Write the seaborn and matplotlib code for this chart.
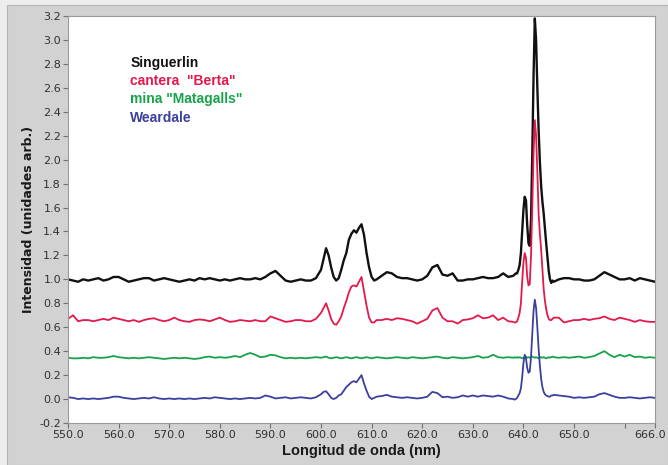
import numpy as np
import pandas as pd
import matplotlib
matplotlib.use("Agg")
import matplotlib.pyplot as plt
import matplotlib.transforms as mtransforms
from matplotlib.patches import Rectangle
import seaborn as sns

# Wavelength sampling (nm): 1 nm steps, finer across the emission peaks
wavelength = np.concatenate([
    np.arange(550, 600, 1.0),      # 50
    np.arange(600, 611, 0.5),      # 22
    np.arange(611, 638, 1.0),      # 27
    np.arange(638, 646, 0.25),     # 32
    np.arange(646, 667, 1.0),      # 21
])

singuerlin = [
    1.00, 0.99, 0.98, 1.00, 0.99, 1.00, 1.01, 0.99, 1.00, 1.02,
    1.02, 1.00, 0.98, 0.99, 1.00, 1.01, 1.01, 0.99, 1.00, 1.01,
    1.00, 0.99, 0.98, 0.99, 1.00, 0.99, 1.01, 1.00, 1.01, 1.00,
    0.99, 1.00, 0.99, 1.00, 1.01, 1.00, 1.00, 1.01, 1.00, 1.02,
    1.05, 1.07, 1.03, 0.99, 0.98, 0.99, 1.00, 0.99, 0.99, 1.01,
    1.08, 1.17, 1.26, 1.20, 1.10, 1.02, 0.99, 1.01, 1.08, 1.16, 1.22,
    1.33, 1.38, 1.41, 1.39, 1.43, 1.46, 1.37, 1.22, 1.10, 1.02, 0.99,
    1.00, 1.03, 1.06, 1.05, 1.02, 1.01, 1.01, 1.00, 0.99, 1.00,
    1.03, 1.10, 1.12, 1.04, 1.03, 1.05, 0.99, 0.99, 1.00, 1.00,
    1.01, 1.02, 1.01, 1.01, 1.02, 1.05, 1.02,
    1.03, 1.04, 1.05, 1.05, 1.08, 1.12, 1.22, 1.40,
    1.58, 1.69, 1.66, 1.45, 1.30, 1.28, 1.50, 2.05,
    2.70, 3.18, 3.00, 2.60, 2.25, 1.98, 1.78, 1.65,
    1.55, 1.42, 1.30, 1.18, 1.07, 1.00, 0.97, 0.99,
    0.98, 1.00, 1.01, 1.01, 1.00, 1.00, 0.99, 0.99, 1.00, 1.03,
    1.06, 1.04, 1.02, 1.00, 1.00, 1.01, 0.99, 1.01, 1.00, 0.99, 0.98,
]

berta = [
    0.67, 0.70, 0.65, 0.66, 0.66, 0.65, 0.66, 0.67, 0.66, 0.68,
    0.67, 0.66, 0.65, 0.66, 0.645, 0.66, 0.67, 0.675, 0.66, 0.65,
    0.66, 0.68, 0.66, 0.65, 0.645, 0.66, 0.665, 0.66, 0.65, 0.665,
    0.68, 0.66, 0.645, 0.65, 0.66, 0.655, 0.65, 0.66, 0.65, 0.65,
    0.69, 0.675, 0.66, 0.645, 0.65, 0.66, 0.66, 0.65, 0.65, 0.67,
    0.72, 0.76, 0.80, 0.74, 0.67, 0.63, 0.62, 0.65, 0.69, 0.76, 0.82,
    0.89, 0.94, 0.95, 0.94, 0.98, 1.02, 0.90, 0.78, 0.68, 0.64, 0.64,
    0.66, 0.66, 0.67, 0.66, 0.675, 0.67, 0.66, 0.65, 0.63, 0.65,
    0.67, 0.74, 0.76, 0.68, 0.65, 0.65, 0.63, 0.66, 0.665, 0.675,
    0.70, 0.675, 0.68, 0.70, 0.66, 0.68, 0.65,
    0.645, 0.64, 0.64, 0.65, 0.68, 0.72, 0.80, 0.98,
    1.14, 1.22, 1.18, 1.02, 0.95, 0.96, 1.20, 1.60,
    2.05, 2.33, 2.20, 1.90, 1.55, 1.38, 1.25, 1.08,
    0.92, 0.82, 0.75, 0.70, 0.67, 0.66, 0.66, 0.67,
    0.68, 0.68, 0.64, 0.65, 0.66, 0.66, 0.67, 0.66, 0.67, 0.675,
    0.69, 0.67, 0.66, 0.68, 0.67, 0.66, 0.645, 0.66, 0.65, 0.645, 0.645,
]

matagalls = [
    0.345, 0.34, 0.34, 0.345, 0.34, 0.35, 0.345, 0.345, 0.35, 0.36,
    0.35, 0.345, 0.34, 0.345, 0.34, 0.345, 0.35, 0.345, 0.34, 0.335,
    0.34, 0.345, 0.34, 0.345, 0.34, 0.335, 0.34, 0.35, 0.355, 0.345,
    0.35, 0.345, 0.35, 0.36, 0.35, 0.37, 0.385, 0.37, 0.35, 0.355,
    0.37, 0.365, 0.35, 0.34, 0.345, 0.34, 0.345, 0.34, 0.345, 0.35,
    0.345, 0.35, 0.355, 0.345, 0.34, 0.345, 0.35, 0.345, 0.34, 0.345, 0.35,
    0.345, 0.34, 0.345, 0.35, 0.345, 0.34, 0.345, 0.35, 0.345, 0.34, 0.345,
    0.35, 0.345, 0.34, 0.345, 0.35, 0.345, 0.34, 0.35, 0.345, 0.34,
    0.345, 0.35, 0.355, 0.345, 0.34, 0.35, 0.345, 0.34, 0.345, 0.35,
    0.36, 0.345, 0.35, 0.37, 0.35, 0.345, 0.35,
    0.345, 0.35, 0.345, 0.35, 0.345, 0.35, 0.345, 0.34,
    0.345, 0.35, 0.355, 0.345, 0.35, 0.345, 0.35, 0.355,
    0.35, 0.345, 0.35, 0.345, 0.34, 0.345, 0.35, 0.345,
    0.35, 0.345, 0.34, 0.345, 0.35, 0.345, 0.35, 0.355,
    0.35, 0.345, 0.35, 0.345, 0.35, 0.355, 0.345, 0.35, 0.36, 0.38,
    0.40, 0.37, 0.35, 0.37, 0.355, 0.37, 0.35, 0.355, 0.345, 0.35, 0.345,
]

weardale = [
    0.015, 0.01, 0.0, 0.005, 0.0, 0.005, 0.0, 0.005, 0.01, 0.02,
    0.02, 0.01, 0.005, 0.0, 0.005, 0.01, 0.005, 0.015, 0.005, 0.0,
    0.005, 0.0, 0.005, 0.0, 0.005, 0.0, 0.005, 0.01, 0.005, 0.015,
    0.01, 0.005, 0.0, 0.005, 0.0, 0.005, 0.01, 0.005, 0.01, 0.03,
    0.02, 0.005, 0.01, 0.015, 0.005, 0.01, 0.015, 0.01, 0.005, 0.015,
    0.04, 0.06, 0.065, 0.04, 0.01, 0.0, 0.01, 0.03, 0.04, 0.07, 0.10,
    0.12, 0.14, 0.15, 0.14, 0.17, 0.20, 0.13, 0.07, 0.02, 0.0, 0.01,
    0.02, 0.025, 0.035, 0.02, 0.015, 0.01, 0.015, 0.01, 0.005, 0.01,
    0.02, 0.06, 0.05, 0.015, 0.02, 0.01, 0.015, 0.03, 0.02, 0.03,
    0.02, 0.03, 0.025, 0.02, 0.03, 0.02, 0.005,
    0.0, -0.005, 0.0, 0.01, 0.03, 0.05, 0.09, 0.18,
    0.30, 0.37, 0.34, 0.26, 0.22, 0.23, 0.35, 0.55,
    0.74, 0.83, 0.76, 0.60, 0.42, 0.28, 0.17, 0.10,
    0.06, 0.04, 0.03, 0.025, 0.02, 0.02, 0.03, 0.03,
    0.035, 0.03, 0.025, 0.02, 0.01, 0.015, 0.01, 0.015, 0.02, 0.04,
    0.05, 0.035, 0.02, 0.01, 0.01, 0.015, 0.01, 0.005, 0.01, 0.015, 0.01,
]

series_names = ['Singuerlin', 'cantera  "Berta"', 'mina "Matagalls"', 'Weardale']
series_values = [singuerlin, berta, matagalls, weardale]
series_colors = ['#111111', '#E3194B', '#17A34A', '#3C3F9E']
series_widths = [1.7, 1.3, 1.3, 1.3]

x_ticks = [550, 560, 570, 580, 590, 600, 610, 620, 630, 640, 650, 666]
x_tick_labels = ['550.0', '560.0', '570.0', '580.0', '590.0', '600.0',
                 '610.0', '620.0', '630.0', '640.0', '650.0', '666.0']
y_ticks = np.round(np.arange(-0.2, 3.21, 0.2), 1)

df = pd.concat(
    [pd.DataFrame({'wavelength': wavelength, 'intensity': vals, 'sample': name})
     for name, vals in zip(series_names, series_values)],
    ignore_index=True,
)

sns.set_theme(style="white")
plt.rcParams['font.family'] = ['DejaVu Sans']

W, H = 668, 465
fig = plt.figure(figsize=(W / 100, H / 100), dpi=100, facecolor='#EDEDED')
# grey panel behind the graph
panel = Rectangle((7 / W, 0), 1 - 7 / W, 1 - 5 / H, transform=fig.transFigure,
                  facecolor='#D2D2D2', edgecolor='#B4B4B4', lw=0.8, zorder=-10)
fig.add_artist(panel)

left, right, top, bottom = 68, 655, 16, 423
ax = fig.add_axes([left / W, 1 - bottom / H, (right - left) / W, (bottom - top) / H])
ax.set_facecolor('white')
ax.set_zorder(1)

for name, color, lw in zip(series_names, series_colors, series_widths):
    sub = df[df['sample'] == name]
    sns.lineplot(data=sub, x='wavelength', y='intensity', color=color, lw=lw,
                 ax=ax, estimator=None, sort=False, legend=False)

ax.set_xlim(550, 666)
ax.set_ylim(-0.2, 3.2)
ax.set_xticks(x_ticks)
ax.set_xticklabels(x_tick_labels)
ax.set_xticks([660], minor=True)
ax.set_yticks(y_ticks)
ax.set_yticklabels([f'{v:.1f}' for v in y_ticks])
ax.tick_params(axis='both', which='both', direction='out', length=3.5, width=0.8,
               color='#707070', labelsize=8, labelcolor='#303030', pad=1.5)
ax.tick_params(axis='x', which='minor', length=3.5, bottom=True)
ax.tick_params(left=True, bottom=True)

# keep the last wavelength label inside the panel
last = ax.get_xticklabels()[-1]
last.set_transform(last.get_transform() +
                   mtransforms.ScaledTranslation(-5 / 100, 0, fig.dpi_scale_trans))

for s in ax.spines.values():
    s.set_color('#9A9A9A')
    s.set_linewidth(0.8)

ax.set_xlabel('Longitud de onda (nm)', fontsize=10.5, fontweight='bold', color='#1A1A1A',
              family=['Liberation Sans Narrow', 'Liberation Sans'], labelpad=3)
ax.set_ylabel('Intensidad (unidades arb.)', fontsize=9, fontweight='bold', color='#1A1A1A',
              labelpad=3)

# coloured sample names
label_y = [0.884, 0.840, 0.796, 0.750]
for name, color, yy in zip(series_names, series_colors, label_y):
    ax.text(0.106, yy, name, transform=ax.transAxes, color=color, fontsize=10,
            fontweight='bold', va='center', ha='left',
            family=['Liberation Sans', 'DejaVu Sans'])

fig.savefig('out.png', dpi=100, facecolor=fig.get_facecolor())
